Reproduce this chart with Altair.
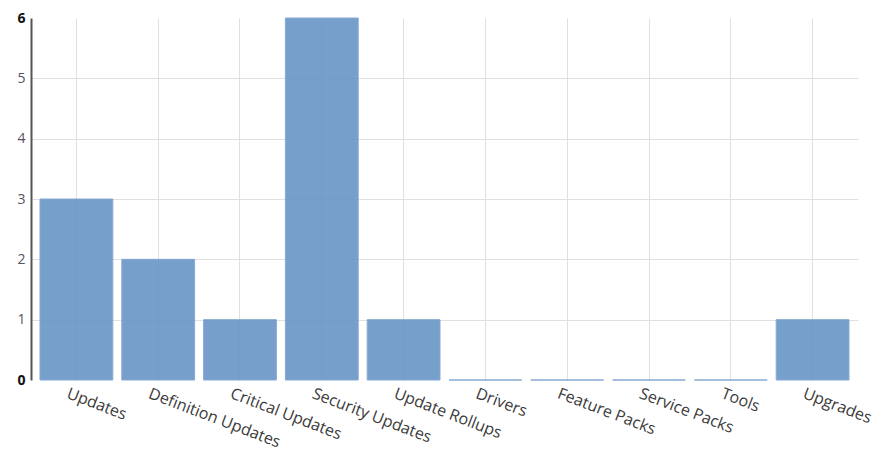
import altair as alt
import pandas as pd

categories = ["Updates", "Definition Updates", "Critical Updates", "Security Updates",
              "Update Rollups", "Drivers", "Feature Packs", "Service Packs", "Tools", "Upgrades"]
counts = [3, 2, 1, 6, 1, 0, 0, 0, 0, 1]

df = pd.DataFrame({"category": categories, "count": counts})

chart = alt.Chart(df).mark_bar(
    color="#6895c6", opacity=0.9, stroke="#7aa2cf", strokeWidth=1
).encode(
    x=alt.X("category:N", sort=categories, title=None,
            scale=alt.Scale(paddingInner=0.11, paddingOuter=0.11),
            axis=alt.Axis(labelAngle=21, labelAlign="left", labelBaseline="top",
                          labelFont="Open Sans", labelFontSize=16, labelColor="#3a3a3a",
                          labelPadding=5, labelOffset=-6, ticks=False, domain=False,
                          grid=True, gridColor="#e0e0e0", labelOverlap=False, labelLimit=300)),
    y=alt.Y("count:Q", title=None,
            scale=alt.Scale(domain=[0, 6], nice=False),
            axis=alt.Axis(values=[0, 1, 2, 3, 4, 5, 6], ticks=False, domain=True,
                          domainColor="#555555", domainWidth=2,
                          labelFont="Open Sans", labelFontSize=14,
                          labelColor=alt.ExprRef("datum.value == 0 || datum.value == 6 ? '#111111' : '#5a5060'"),
                          labelFontWeight=alt.ExprRef("datum.value == 0 || datum.value == 6 ? 'bold' : 'normal'"),
                          labelPadding=6,
                          grid=True, gridColor="#e0e0e0",
                          gridOpacity=alt.ExprRef("datum.value == 0 || datum.value == 6 ? 0 : 1")))
).properties(
    width=827, height=362,
    autosize=alt.AutoSizeParams(type="none"),
    padding={"left": 23, "top": 10, "right": 24, "bottom": 72}
).configure_view(stroke=None)

chart.save("out.html", embed_options={"renderer": "svg", "actions": False})
